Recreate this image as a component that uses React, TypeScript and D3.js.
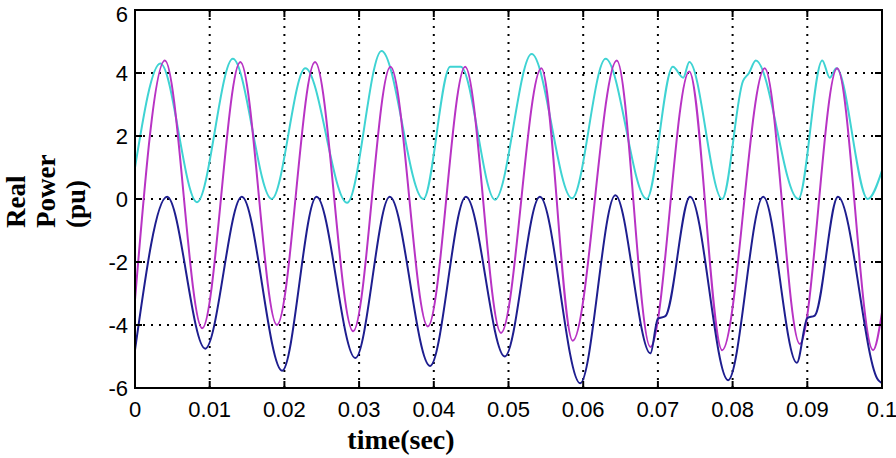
import React from "react";
import * as d3 from "d3";

// time (s) / real power (pu)
const cyanT = [0, 0.0034, 0.0083, 0.0131, 0.0183, 0.0228, 0.0284, 0.033, 0.0386, 0.0422, 0.0436, 0.0482, 0.0531, 0.0585, 0.063, 0.0685, 0.072, 0.0734, 0.0742, 0.0786, 0.0814, 0.0822, 0.0831, 0.0888, 0.092, 0.093, 0.0939, 0.0981, 0.1];
const cyanV = [1.0, 4.3, -0.1, 4.45, 0.0, 4.15, -0.12, 4.7, 0.0, 4.2, 4.2, -0.02, 4.6, 0.02, 4.45, 0.0, 4.2, 3.85, 4.35, 0.0, 3.75, 4.0, 4.4, 0.0, 4.4, 3.85, 4.15, 0.0, 0.9];

const magentaT = [0, 0.004, 0.009, 0.0141, 0.019, 0.0241, 0.0292, 0.0342, 0.0392, 0.0442, 0.049, 0.0544, 0.0586, 0.0645, 0.069, 0.0742, 0.0786, 0.0843, 0.089, 0.094, 0.0988, 0.1];
const magentaV = [-3.2, 4.4, -4.1, 4.35, -4.0, 4.35, -4.2, 4.2, -4.05, 4.2, -4.25, 4.15, -4.5, 4.4, -4.7, 4.05, -4.8, 4.15, -4.6, 4.15, -4.8, -3.6];

const navyT = [0, 0.0043, 0.0094, 0.0143, 0.0197, 0.0243, 0.0295, 0.0341, 0.0395, 0.0443, 0.0495, 0.0542, 0.0596, 0.0643, 0.069, 0.07, 0.071, 0.0743, 0.0794, 0.0841, 0.0886, 0.09, 0.091, 0.0941, 0.0995, 0.1];
const navyV = [-4.8, 0.07, -4.75, 0.07, -5.45, 0.07, -5.05, 0.07, -5.3, 0.07, -5.0, 0.07, -5.85, 0.12, -4.9, -3.8, -3.72, 0.07, -5.75, 0.07, -5.2, -3.78, -3.7, 0.07, -5.75, -5.85];

const xTicks = [0, 0.01, 0.02, 0.03, 0.04, 0.05, 0.06, 0.07, 0.08, 0.09, 0.1];
const xTickLabels = ["0", "0.01", "0.02", "0.03", "0.04", "0.05", "0.06", "0.07", "0.08", "0.09", "0.1"];
const yTicks = [-6, -4, -2, 0, 2, 4, 6];
const yLabelLines = ["Real", "Power", "(pu)"];

const W = 896;
const H = 458;
const box = { left: 135, right: 882, top: 10, bottom: 388 };

export default function App() {
  const x = d3.scaleLinear().domain([0, 0.1]).range([box.left, box.right]);
  const y = d3.scaleLinear().domain([-6, 6]).range([box.bottom, box.top]);

  const line = d3
    .line<[number, number]>()
    .x((d) => x(d[0]))
    .y((d) => y(d[1]))
    .curve(d3.curveMonotoneX);

  const series = [
    { name: "cyan", t: cyanT, v: cyanV, color: "#3fd3d3" },
    { name: "magenta", t: magentaT, v: magentaV, color: "#b833c4" },
    { name: "navy", t: navyT, v: navyV, color: "#1e1e8f" },
  ];

  const tickFont = "'Liberation Sans', Arial, sans-serif";
  const labelFont = "'Liberation Serif', 'Times New Roman', serif";

  return (
    <svg
      width={W}
      height={H}
      style={{ position: "absolute", left: 0, top: 0, background: "#fff" }}
    >
      {/* grid */}
      <g stroke="#000" strokeWidth={2} strokeDasharray="2,6">
        {xTicks.slice(1, -1).map((t) => (
          <line key={"gx" + t} x1={x(t)} x2={x(t)} y1={box.top} y2={box.bottom} />
        ))}
        {yTicks.slice(1, -1).map((v) => (
          <line key={"gy" + v} x1={box.left} x2={box.right} y1={y(v)} y2={y(v)} />
        ))}
      </g>

      {/* curves */}
      <g fill="none" strokeWidth={2} strokeLinejoin="round">
        {series.map((s) => (
          <path
            key={s.name}
            d={line(s.t.map((t, i) => [t, s.v[i]] as [number, number])) || ""}
            stroke={s.color}
          />
        ))}
      </g>

      {/* ticks on all four sides */}
      <g stroke="#000" strokeWidth={2}>
        {xTicks.map((t) => (
          <g key={"tx" + t}>
            <line x1={x(t)} x2={x(t)} y1={box.bottom} y2={box.bottom - 7} />
            <line x1={x(t)} x2={x(t)} y1={box.top} y2={box.top + 7} />
          </g>
        ))}
        {yTicks.map((v) => (
          <g key={"ty" + v}>
            <line x1={box.left} x2={box.left + 7} y1={y(v)} y2={y(v)} />
            <line x1={box.right} x2={box.right - 7} y1={y(v)} y2={y(v)} />
          </g>
        ))}
      </g>

      <rect
        x={box.left}
        y={box.top}
        width={box.right - box.left}
        height={box.bottom - box.top}
        fill="none"
        stroke="#000"
        strokeWidth={2}
      />

      {/* tick labels */}
      <g fontFamily={tickFont} fontSize={22} fill="#000">
        {xTicks.map((t, i) => (
          <text key={"lx" + t} x={x(t)} y={box.bottom + 29} textAnchor="middle">
            {xTickLabels[i]}
          </text>
        ))}
        {yTicks.map((v) => (
          <text
            key={"ly" + v}
            x={box.left - 7}
            y={Math.max(y(v) + 8, 22)} // top label sits a bit lower so it stays on the page
            textAnchor="end"
          >
            {String(v)}
          </text>
        ))}
      </g>

      {/* axis labels */}
      <text
        x={401}
        y={449}
        textAnchor="middle"
        fontFamily={labelFont}
        fontWeight="bold"
        fontSize={28}
      >
        time(sec)
      </text>
      {yLabelLines.map((s, i) => (
        <text
          key={s}
          transform={`translate(${[25, 55, 85][i]},228) rotate(-90)`}
          textAnchor="start"
          fontFamily={labelFont}
          fontWeight="bold"
          fontSize={27}
        >
          {s}
        </text>
      ))}
    </svg>
  );
}
